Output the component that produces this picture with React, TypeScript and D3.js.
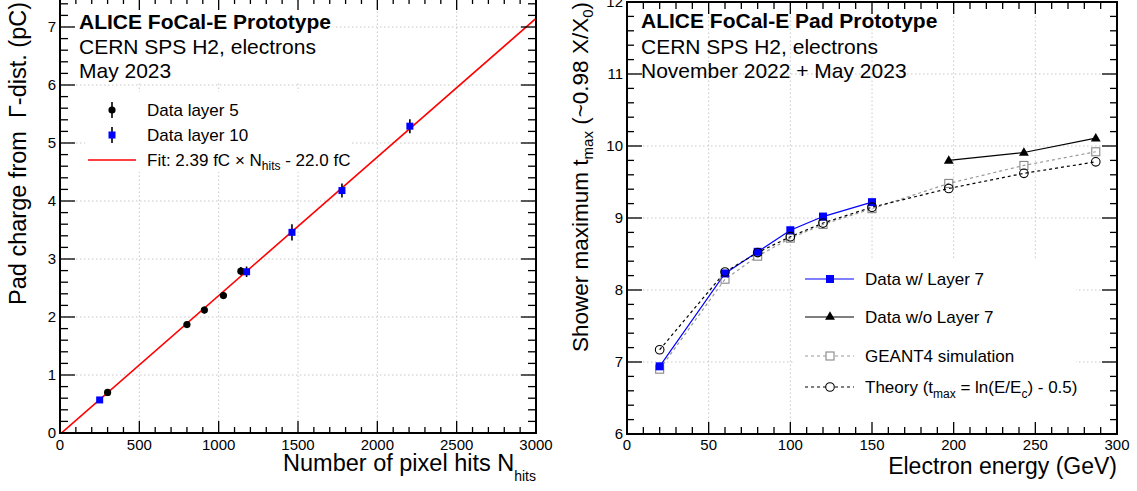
import React from "react";
import * as d3 from "d3";

// ---------- Left panel data ----------
const layer5N = [300, 800, 910, 1030, 1140];
const layer5Q = [0.70, 1.87, 2.12, 2.37, 2.79];
const layer5Err = [0.04, 0.05, 0.06, 0.06, 0.07];

const layer10N = [250, 1176, 1462, 1777, 2205];
const layer10Q = [0.57, 2.78, 3.46, 4.18, 5.29];
const layer10Err = [0.03, 0.09, 0.14, 0.12, 0.12];

const fitSlope = 0.00239; // pC per hit
const fitOffset = -0.022; // pC
const fitRange = [0, 3000];

const leftXTicks = [0, 500, 1000, 1500, 2000, 2500, 3000];
const leftYTicks = [0, 1, 2, 3, 4, 5, 6, 7];

// ---------- Right panel data ----------
const energyWith = [20, 60, 80, 100, 120, 150];
const tmaxWith = [6.94, 8.23, 8.53, 8.83, 9.02, 9.22];

const energyWithout = [197, 243, 287];
const tmaxWithout = [9.80, 9.91, 10.11];

const energySim = [20, 60, 80, 100, 120, 150, 197, 243, 287];
const tmaxGeant = [6.90, 8.15, 8.47, 8.72, 8.91, 9.13, 9.48, 9.73, 9.92];
const tmaxTheory = [7.17, 8.25, 8.52, 8.74, 8.93, 9.15, 9.41, 9.62, 9.78];

const rightXTicks = [0, 50, 100, 150, 200, 250, 300];
const rightYTicks = [6, 7, 8, 9, 10, 11, 12];

const FONT = "'Liberation Sans', Arial, Helvetica, sans-serif";

type Sc = d3.ScaleLinear<number, number>;

function Frame({ x, y, xMajor, xMinorStep, yMajor, yMinorStep, xMajLen, xMinLen, yMajLen, yMinLen }: any) {
  const [x0, x1] = x.range();
  const [yb, yt] = y.range();
  const [dx0, dx1] = x.domain();
  const [dy0, dy1] = y.domain();
  const xMinor = d3.range(dx0, dx1 + 1e-9, xMinorStep);
  const yMinor = d3.range(dy0, dy1 + 1e-9, yMinorStep);
  const els: any[] = [];
  xMinor.forEach((v: number, i: number) => {
    const isMaj = xMajor.some((m: number) => Math.abs(m - v) < 1e-6);
    const L = isMaj ? xMajLen : xMinLen;
    const px = x(v);
    els.push(<line key={"xb" + i} x1={px} x2={px} y1={yb} y2={yb - L} />);
    els.push(<line key={"xt" + i} x1={px} x2={px} y1={yt} y2={yt + L} />);
  });
  yMinor.forEach((v: number, i: number) => {
    const isMaj = yMajor.some((m: number) => Math.abs(m - v) < 1e-6);
    const L = isMaj ? yMajLen : yMinLen;
    const py = y(v);
    els.push(<line key={"yl" + i} x1={x0} x2={x0 + L} y1={py} y2={py} />);
    els.push(<line key={"yr" + i} x1={x1} x2={x1 - L} y1={py} y2={py} />);
  });
  return (
    <g>
      <g stroke="#000" strokeWidth={1.3}>{els}</g>
      <rect x={x0} y={yt} width={x1 - x0} height={yb - yt} fill="none" stroke="#000" strokeWidth={2} />
    </g>
  );
}

function Grid({ x, y, xs, ys }: any) {
  const [x0, x1] = x.range();
  const [yb, yt] = y.range();
  return (
    <g stroke="#c8c8c8" strokeWidth={1} strokeDasharray="1.5,2.5">
      {xs.map((v: number, i: number) => (
        <line key={"gx" + i} x1={x(v)} x2={x(v)} y1={yb} y2={yt} />
      ))}
      {ys.map((v: number, i: number) => (
        <line key={"gy" + i} x1={x0} x2={x1} y1={y(v)} y2={y(v)} />
      ))}
    </g>
  );
}

function ErrPoint({ cx, cy, eTop, eBot, kind }: any) {
  return (
    <g>
      <line x1={cx} x2={cx} y1={eTop} y2={eBot} stroke="#000" strokeWidth={1.6} />
      {kind === "circle" ? (
        <circle cx={cx} cy={cy} r={3.6} fill="#000" />
      ) : (
        <rect x={cx - 3.5} y={cy - 3.5} width={7} height={7} fill="#0000ff" />
      )}
    </g>
  );
}

export default function App() {
  // Left scales
  const lx: Sc = d3.scaleLinear().domain([0, 3000]).range([60, 536]);
  const ly: Sc = d3.scaleLinear().domain([0, 7.5]).range([433, -2]);
  // Right scales
  const rx: Sc = d3.scaleLinear().domain([0, 300]).range([627, 1117]);
  const ry: Sc = d3.scaleLinear().domain([6, 12]).range([434, 2]);

  const fitLine = d3
    .line<number>()
    .x((n) => lx(n))
    .y((n) => ly(fitSlope * n + fitOffset));

  const lineR = (xs: number[], ys: number[]) =>
    d3.line<number>().x((_, i) => rx(xs[i])).y((v) => ry(v))(ys) as string;

  const tri = d3.symbol().type(d3.symbolTriangle).size(42)() as string;

  return (
    <svg
      width={1137}
      height={491}
      style={{ position: "absolute", left: 0, top: 0, background: "#fff" }}
      fontFamily={FONT}
    >
      <defs>
        <clipPath id="clipL">
          <rect x={60} y={-2} width={476} height={435} />
        </clipPath>
      </defs>
      <rect x={0} y={0} width={1137} height={491} fill="#fff" />

      {/* ================= LEFT PANEL ================= */}
      <Grid x={lx} y={ly} xs={leftXTicks.slice(1, -1)} ys={leftYTicks.slice(1)} />
      {/* white pave behind header text and legend */}
      <rect x={75} y={3} width={260} height={80} fill="#fff" />
      <rect x={85} y={92} width={267} height={80} fill="#fff" />

      <path d={fitLine(fitRange) as string} stroke="#ff0000" strokeWidth={1.6} fill="none" clipPath="url(#clipL)" />

      {layer5N.map((n, i) => (
        <ErrPoint
          key={"l5" + i}
          cx={lx(n)}
          cy={ly(layer5Q[i])}
          eTop={ly(layer5Q[i] + layer5Err[i])}
          eBot={ly(layer5Q[i] - layer5Err[i])}
          kind="circle"
        />
      ))}
      {layer10N.map((n, i) => (
        <ErrPoint
          key={"l10" + i}
          cx={lx(n)}
          cy={ly(layer10Q[i])}
          eTop={ly(layer10Q[i] + layer10Err[i])}
          eBot={ly(layer10Q[i] - layer10Err[i])}
          kind="square"
        />
      ))}

      <Frame
        x={lx}
        y={ly}
        xMajor={leftXTicks}
        xMinorStep={100}
        yMajor={leftYTicks}
        yMinorStep={0.2}
        xMajLen={12}
        xMinLen={6}
        yMajLen={15}
        yMinLen={8}
      />

      {/* left tick labels */}
      <g fontSize={15} fill="#000">
        {leftXTicks.map((v) => (
          <text key={"lxt" + v} x={lx(v)} y={450} textAnchor="middle">
            {v}
          </text>
        ))}
        {leftYTicks.map((v) => (
          <text key={"lyt" + v} x={56} y={ly(v)} dy="0.36em" textAnchor="end">
            {v}
          </text>
        ))}
      </g>

      {/* left axis titles */}
      <text x={536} y={471} textAnchor="end" fontSize={23.5}>
        Number of pixel hits N
        <tspan fontSize={14} dy={10}>hits</tspan>
      </text>
      <text
        transform="translate(26,0) rotate(-90)"
        x={-2}
        y={0}
        textAnchor="end"
        fontSize={23.5}
        style={{ whiteSpace: "pre" }}
      >
        {"Pad charge from  \u0393-dist. (pC)"}
      </text>

      {/* left header */}
      <text x={79} y={29} fontSize={21} fontWeight="bold">ALICE FoCal-E Prototype</text>
      <text x={79} y={54} fontSize={21}>CERN SPS H2, electrons</text>
      <text x={79} y={78} fontSize={21}>May 2023</text>

      {/* left legend */}
      <ErrPoint cx={112} cy={110} eTop={102} eBot={118} kind="circle" />
      <ErrPoint cx={112} cy={135} eTop={127} eBot={143} kind="square" />
      <line x1={88} x2={136} y1={160} y2={160} stroke="#ff0000" strokeWidth={1.6} />
      <g fontSize={17}>
        <text x={147} y={116}>Data layer 5</text>
        <text x={147} y={141}>Data layer 10</text>
        <text x={147} y={166}>
          Fit: 2.39 fC {"\u00d7"} N
          <tspan fontSize={12} dy={4}>hits</tspan>
          <tspan dy={-4}> - 22.0 fC</tspan>
        </text>
      </g>

      {/* ================= RIGHT PANEL ================= */}
      <Grid x={rx} y={ry} xs={rightXTicks.slice(1, -1)} ys={rightYTicks.slice(1, -1)} />
      <rect x={793} y={259} width={283} height={173} fill="#fff" />

      {/* GEANT4 */}
      <path d={lineR(energySim, tmaxGeant)} fill="none" stroke="#999" strokeWidth={1.2} strokeDasharray="3,3" />
      {/* Data with layer 7 */}
      <path d={lineR(energyWith, tmaxWith)} fill="none" stroke="#0000ff" strokeWidth={1.2} />
      {/* Theory */}
      <path d={lineR(energySim, tmaxTheory)} fill="none" stroke="#000" strokeWidth={1.2} strokeDasharray="3,3" />
      {/* Data without layer 7 */}
      <path d={lineR(energyWithout, tmaxWithout)} fill="none" stroke="#000" strokeWidth={1.2} />

      {energySim.map((e, i) => (
        <rect
          key={"g4" + i}
          x={rx(e) - 4}
          y={ry(tmaxGeant[i]) - 4}
          width={8}
          height={8}
          fill="none"
          stroke="#888"
          strokeWidth={1.1}
        />
      ))}
      {energyWith.map((e, i) => (
        <rect key={"dw" + i} x={rx(e) - 4} y={ry(tmaxWith[i]) - 4} width={8} height={8} fill="#0000ff" />
      ))}
      {energySim.map((e, i) => (
        <circle key={"th" + i} cx={rx(e)} cy={ry(tmaxTheory[i])} r={4.3} fill="none" stroke="#000" strokeWidth={1.1} />
      ))}
      {energyWithout.map((e, i) => (
        <path key={"dwo" + i} d={tri} transform={`translate(${rx(e)},${ry(tmaxWithout[i]) + 0.5})`} fill="#000" />
      ))}

      <Frame
        x={rx}
        y={ry}
        xMajor={rightXTicks}
        xMinorStep={10}
        yMajor={rightYTicks}
        yMinorStep={0.2}
        xMajLen={12}
        xMinLen={7}
        yMajLen={15}
        yMinLen={7}
      />

      <g fontSize={15} fill="#000">
        {rightXTicks.map((v) => (
          <text key={"rxt" + v} x={rx(v)} y={450} textAnchor="middle">
            {v}
          </text>
        ))}
        {rightYTicks.map((v) => (
          <text key={"ryt" + v} x={623} y={ry(v)} dy="0.36em" textAnchor="end">
            {v}
          </text>
        ))}
      </g>

      <text x={1117} y={474} textAnchor="end" fontSize={23}>
        Electron energy (GeV)
      </text>
      <text transform="translate(588,0) rotate(-90)" x={-2} y={0} textAnchor="end" fontSize={22.5}>
        Shower maximum t
        <tspan fontSize={15} dy={5}>max</tspan>
        <tspan dy={-5}> (~0.98 X/X</tspan>
        <tspan fontSize={15} dy={5}>0</tspan>
        <tspan dy={-5}>)</tspan>
      </text>

      {/* right header */}
      <text x={641} y={28} fontSize={21} fontWeight="bold">ALICE FoCal-E Pad Prototype</text>
      <text x={641} y={54} fontSize={21}>CERN SPS H2, electrons</text>
      <text x={641} y={78} fontSize={21}>November 2022 + May 2023</text>

      {/* right legend */}
      <g>
        <line x1={805} x2={854} y1={279} y2={279} stroke="#0000ff" strokeWidth={1.2} />
        <rect x={826} y={275} width={8} height={8} fill="#0000ff" />
        <line x1={805} x2={854} y1={317} y2={317} stroke="#000" strokeWidth={1.2} />
        <path d={tri} transform="translate(830,317)" fill="#000" />
        <line x1={805} x2={854} y1={356} y2={356} stroke="#999" strokeWidth={1.2} strokeDasharray="3,3" />
        <rect x={826} y={352} width={8} height={8} fill="#fff" stroke="#888" strokeWidth={1.1} />
        <line x1={805} x2={854} y1={387} y2={387} stroke="#000" strokeWidth={1.2} strokeDasharray="3,3" />
        <circle cx={830} cy={387} r={4.3} fill="#fff" stroke="#000" strokeWidth={1.1} />
        <g fontSize={17}>
          <text x={865} y={285}>Data w/ Layer 7</text>
          <text x={865} y={323}>Data w/o Layer 7</text>
          <text x={865} y={362}>GEANT4 simulation</text>
          <text x={865} y={393}>
            Theory (t
            <tspan fontSize={12} dy={5}>max</tspan>
            <tspan dy={-5}> = ln(E/E</tspan>
            <tspan fontSize={12} dy={5}>c</tspan>
            <tspan dy={-5}>) - 0.5)</tspan>
          </text>
        </g>
      </g>
    </svg>
  );
}
